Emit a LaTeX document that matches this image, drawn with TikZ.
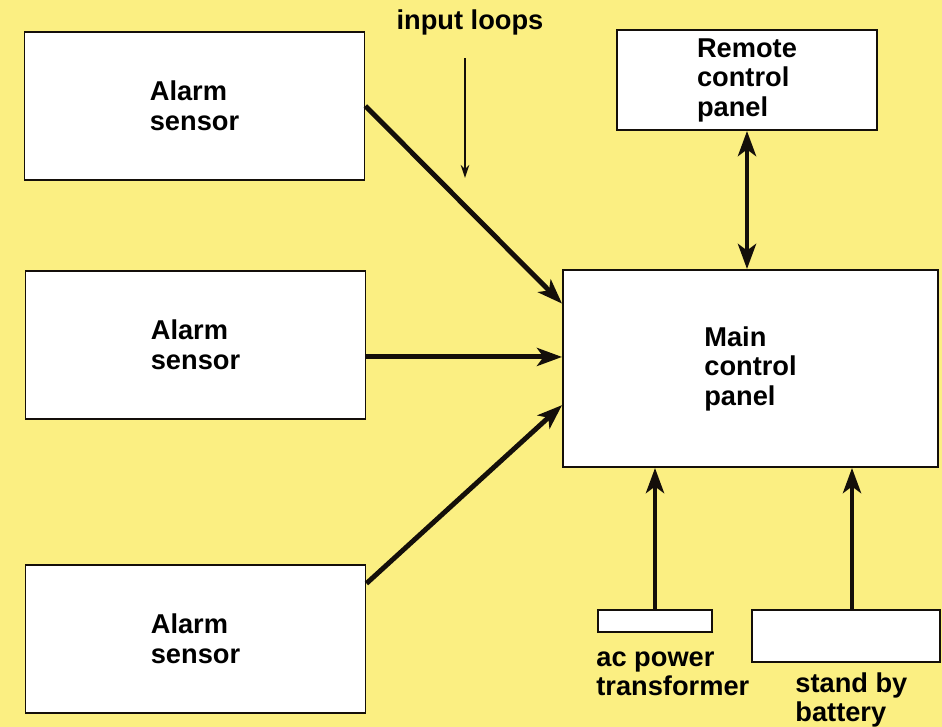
\documentclass[tikz,border=0pt]{standalone}
\usepackage{fontspec}
\setmainfont{Liberation Sans}
\usepackage{tikz}
\usetikzlibrary{arrows.meta,positioning,calc}
\usepackage{xcolor}
\definecolor{paleyellow}{RGB}{251,239,130}
\definecolor{inkblack}{RGB}{20,15,10}
\tikzset{
  unit/.style={rectangle, draw=inkblack, line width=1.1pt, fill=white,
               align=left, inner sep=0pt, font=\fontsize{15.5}{16.8}\selectfont\bfseries},
  sensorbox/.style={unit, minimum width=6.8cm, minimum height=2.96cm},
  caption/.style={align=left, inner sep=0pt, font=\fontsize{15.5}{16.8}\selectfont\bfseries},
  signal/.style={-{Stealth[length=5mm, width=3.6mm, inset=1.3mm]}, line width=2.8pt, inkblack},
  duplex/.style={{Stealth[length=5mm, width=3.6mm, inset=1.3mm]}-{Stealth[length=5mm, width=3.6mm, inset=1.3mm]}, line width=2.8pt, inkblack},
  pointer/.style={-{Stealth[length=2.6mm, width=1.7mm]}, line width=1.1pt, inkblack},
}
\begin{document}
\begin{tikzpicture}[x=0.2mm, y=-0.2mm]
\fill[paleyellow] (0,0) rectangle (942,727);
\useasboundingbox (0,0) rectangle (942,727);

% sensors on the left
\node[sensorbox] (s1) at (194.5,106) {Alarm\\sensor};
\node[sensorbox] (s2) at (195.5,345) {Alarm\\sensor};
\node[sensorbox] (s3) at (195.5,639) {Alarm\\sensor};

% panels
\node[unit, minimum width=7.5cm, minimum height=3.94cm] (main) at (750.5,368.5) {Main\\control\\panel};
\node[unit, minimum width=5.2cm, minimum height=2.0cm] (remote) at (747,80) {Remote\\control\\panel};

% power supplies
\node[unit, minimum width=2.28cm, minimum height=0.44cm] (ac) at (655,621) {};
\node[unit, minimum width=3.76cm, minimum height=1.04cm] (bat) at (846,636) {};
\node[caption, anchor=north west] (aclbl) at ($(ac.south west)+(-1,18)$) {ac power\\transformer};
\node[caption, anchor=north west] (batlbl) at ($(bat.south west)+(44,9)$) {stand by\\battery};

% input loops
\node[caption] (loops) at (470,22) {input loops};
\coordinate (loopend) at (465,178);
\draw[pointer] (loops.south -| loopend) ++(0,23) -- (loopend);

\draw[signal] (s1.east) -- (main.161);
\draw[signal] (s2.-4) -- (main.west |- s2.-4);
\draw[signal] (s3.18) -- (main.191);
\draw[duplex] (remote.south) -- (main.north -| remote.south);
\draw[signal] (ac.north) -- (main.south -| ac.north);
\draw[signal] ($(bat.north)+(6,0)$) -- (main.south -| {$(bat.north)+(6,0)$});
\end{tikzpicture}
\end{document}
